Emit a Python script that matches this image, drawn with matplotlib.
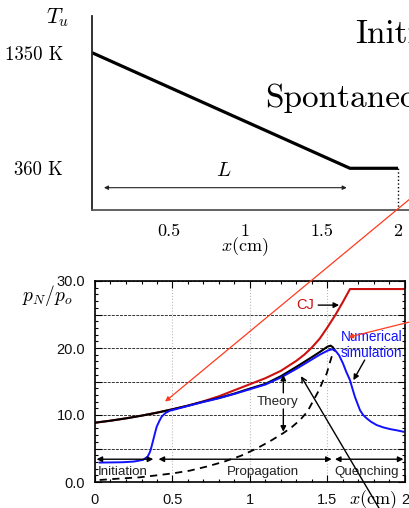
import numpy as np
import matplotlib.pyplot as plt
from matplotlib.ticker import MultipleLocator

plt.rcParams['mathtext.fontset'] = 'cm'
plt.rcParams['font.family'] = ['Liberation Sans', 'DejaVu Sans']

W, H = 410, 508

# top panel: unburned gas temperature profile
prof_x = [0.0, 1.686, 2.0]
prof_T = [1350, 360, 360]
top_xticks = [0.5, 1, 1.5, 2]
top_xlabels = ['0.5', '1', '1.5', '2']
top_yticks = [360, 1350]
top_ylabels = ['360 K', '1350 K']
L_span = [0.078, 1.665]

# bottom panel: pressure ratio along x
cj_x = [0.0, 0.1, 0.2, 0.3, 0.4, 0.5, 0.6, 0.7, 0.8, 0.9, 1.0, 1.1, 1.2, 1.3,
        1.35, 1.4, 1.45, 1.5, 1.55, 1.6, 1.645, 2.0]
cj_p = [8.85, 9.15, 9.5, 9.9, 10.35, 10.85, 11.4, 12.05, 12.8, 13.7, 14.6,
        15.5, 16.6, 18.1, 19.0, 20.1, 21.4, 23.1, 24.9, 26.9, 28.8, 28.8]

th_x = [0.0, 0.1, 0.2, 0.3, 0.4, 0.5, 0.6, 0.7, 0.8, 0.9, 1.0, 1.1, 1.2, 1.3,
        1.4, 1.45, 1.5, 1.52, 1.535, 1.545]
th_p = [8.85, 9.15, 9.5, 9.9, 10.35, 10.85, 11.4, 12.0, 12.55, 13.2, 13.95,
        14.65, 15.8, 17.2, 18.65, 19.4, 20.2, 20.35, 20.1, 19.7]

dash_x = [0.03, 0.15, 0.29, 0.4, 0.505, 0.613, 0.72, 0.828, 0.94, 1.043, 1.13,
          1.215, 1.27, 1.323, 1.37, 1.41, 1.445, 1.473, 1.495, 1.515, 1.527, 1.545]
dash_p = [0.3, 0.5, 0.7, 1.0, 1.3, 1.7, 2.3, 3.0, 3.9, 5.0, 6.1, 7.3, 8.2,
          9.25, 10.5, 12.2, 13.7, 15.2, 16.2, 17.8, 18.7, 19.7]

sim_x = [0.03, 0.1, 0.18, 0.25, 0.31, 0.34, 0.355, 0.365, 0.376, 0.387, 0.398,
         0.415, 0.43, 0.455, 0.484, 0.527, 0.6, 0.7, 0.8, 0.9, 1.0, 1.1, 1.2,
         1.3, 1.4, 1.45, 1.5, 1.527, 1.548, 1.575, 1.6, 1.62, 1.645, 1.66,
         1.677, 1.695, 1.71, 1.73, 1.753, 1.78, 1.817, 1.86, 1.903, 1.95, 1.99]
sim_p = [2.9, 2.92, 2.95, 3.05, 3.3, 3.8, 4.5, 5.3, 6.3, 7.3, 8.25, 9.1, 9.75,
         10.3, 10.65, 10.9, 11.35, 11.95, 12.5, 13.15, 13.85, 14.55, 15.6,
         16.9, 18.3, 19.0, 19.6, 19.8, 19.7, 18.9, 17.7, 16.5, 15.2, 14.0,
         12.7, 11.6, 10.7, 10.0, 9.5, 9.0, 8.5, 8.15, 7.9, 7.7, 7.5]

phases = ['Initiation', 'Propagation', 'Quenching']
phase_bounds = [(0.01, 0.376), (0.41, 1.527), (1.548, 1.99)]
phase_text_x = [0.18, 1.086, 1.753]

red = '#cc1111'
blue = '#1111ff'
pointer = '#ff3b1f'

fig = plt.figure(figsize=(W / 100, H / 100), dpi=100)

# ---------------- top panel
ax1 = fig.add_axes([92 / W, 1 - 210 / H, (W - 92) / W, 194 / H])
ax1.set_xlim(0, (W - 92) / 153)
ax1.set_ylim(2.9, 1664)
for s in ['top', 'right']:
    ax1.spines[s].set_visible(False)
ax1.spines['left'].set_color('#222')
ax1.spines['bottom'].set_color('#555')
ax1.spines['left'].set_linewidth(1.3)
ax1.spines['bottom'].set_linewidth(1.3)

ax1.plot(prof_x, prof_T, color='k', lw=2.3, solid_capstyle='butt')
ax1.vlines(prof_x[-1], 2.9, prof_T[-1], color='k', lw=1, linestyles=':')
ax1.annotate('', xy=(L_span[1], 194), xytext=(L_span[0], 194),
             arrowprops=dict(arrowstyle='<|-|>', color='#222', lw=0.8,
                             mutation_scale=6, shrinkA=0, shrinkB=0))
ax1.text(0.863, 342, r'$L$', fontsize=15, ha='center', va='center')

ax1.set_xticks(top_xticks, labels=top_xlabels, family='cmr10', fontsize=13)
ax1.set_yticks(top_yticks, labels=top_ylabels, family='cmr10', fontsize=13.5)
ax1.tick_params(axis='x', length=0, pad=10)
ax1.tick_params(axis='y', length=0, pad=21)

fig.text(58 / W, 1 - 18 / H, r'$T_u$', fontsize=16, ha='center', va='center')
fig.text(245 / W, 1 - 247 / H, r'$x(\mathrm{cm})$', fontsize=13,
         ha='center', va='center')
fig.text(355 / W, 1 - 43 / H, 'Initiation', family='cmr10', fontsize=24,
         va='baseline')
fig.text(265 / W, 1 - 107 / H, 'Spontaneous', family='cmr10', fontsize=24,
         va='baseline')

# ---------------- bottom panel
ax2 = fig.add_axes([95 / W, 1 - 482 / H, 310 / W, 201 / H])
ax2.set_xlim(0, 2)
ax2.set_ylim(0, 30)

ax2.set_xticks([0, 0.5, 1, 1.5, 2], labels=['0', '0.5', '1', '1.5', '2'])
ax2.set_yticks([0, 5, 10, 15, 20, 25, 30],
               labels=['0.0', '', '10.0', '', '20.0', '', '30.0'])
ax2.xaxis.set_minor_locator(MultipleLocator(0.1))
ax2.yaxis.set_minor_locator(MultipleLocator(1))
ax2.tick_params(which='both', direction='in', top=True, right=True,
                labelsize=10.5, labelcolor='#111', width=0.8)
ax2.tick_params(which='major', length=5)
ax2.tick_params(which='minor', length=2.5)
ax2.tick_params(axis='y', pad=7)
ax2.tick_params(axis='x', pad=8)
ax2.yaxis.grid(True, color='#333', ls=(0, (3, 1.2)), lw=0.7)
ax2.xaxis.grid(True, color='#bbb', ls=':', lw=0.8)
ax2.set_axisbelow(True)
for s in ax2.spines.values():
    s.set_linewidth(1.2)

ax2.plot(dash_x, dash_p, color='k', lw=1.3, ls=(0, (4, 3)))
ax2.plot(cj_x, cj_p, color=red, lw=1.5)
ax2.plot(th_x, th_p, color='k', lw=1.5)
ax2.plot(sim_x, sim_p, color=blue, lw=1.4)

for name, (a, b), tx in zip(phases, phase_bounds, phase_text_x):
    ax2.annotate('', xy=(b, 3.4), xytext=(a, 3.4),
                 arrowprops=dict(arrowstyle='<|-|>', color='k', lw=1,
                                 mutation_scale=8, shrinkA=0, shrinkB=0))
    ax2.text(tx, 1.55, name, fontsize=9.6, color='#222', ha='center',
             va='center')

arr = dict(arrowstyle='-|>', color='k', lw=1, mutation_scale=8,
           shrinkA=0, shrinkB=0)
ax2.text(1.177, 12.0, 'Theory', fontsize=9.6, color='#222', ha='center',
         va='center')
ax2.annotate('', xy=(1.215, 16.0), xytext=(1.215, 13.3), arrowprops=arr)
ax2.annotate('', xy=(1.215, 7.5), xytext=(1.215, 10.9), arrowprops=arr)

ax2.text(1.355, 26.4, 'CJ', fontsize=10.5, color=red, ha='center',
         va='center')
ax2.annotate('', xy=(1.575, 26.4), xytext=(1.44, 26.4), arrowprops=arr)

ax2.text(1.785, 21.6, 'Numerical', fontsize=9.8, color=blue, ha='center',
         va='center')
ax2.text(1.785, 19.2, 'simulation', fontsize=9.8, color=blue, ha='center',
         va='center')
ax2.annotate('', xy=(1.667, 15.2), xytext=(1.74, 18.2), arrowprops=arr)

ax2.text(-0.31, 27.9, r'$p_N/p_o$', fontsize=14, ha='center', va='center')
ax2.text(1.79, -2.7, r'$x(\mathrm{cm})$', fontsize=13, ha='center',
         va='center')

# overlay pointers crossing both panels
ax2.annotate('', xy=(0.452, 12.0), xytext=(2.05, 42.6),
             arrowprops=dict(arrowstyle='-|>', color=pointer, lw=0.9,
                             mutation_scale=7, shrinkA=0, shrinkB=0),
             annotation_clip=False, zorder=10)
ax2.annotate('', xy=(1.634, 21.6), xytext=(2.05, 24.0),
             arrowprops=dict(arrowstyle='-|>', color=pointer, lw=0.9,
                             mutation_scale=7, shrinkA=0, shrinkB=0),
             annotation_clip=False, zorder=10)
ax2.annotate('', xy=(1.329, 15.8), xytext=(1.84, -4.2),
             arrowprops=dict(arrowstyle='->', color='k', lw=1,
                             mutation_scale=9, shrinkA=0, shrinkB=0),
             annotation_clip=False, zorder=10)

fig.savefig('out.png', dpi=100)
